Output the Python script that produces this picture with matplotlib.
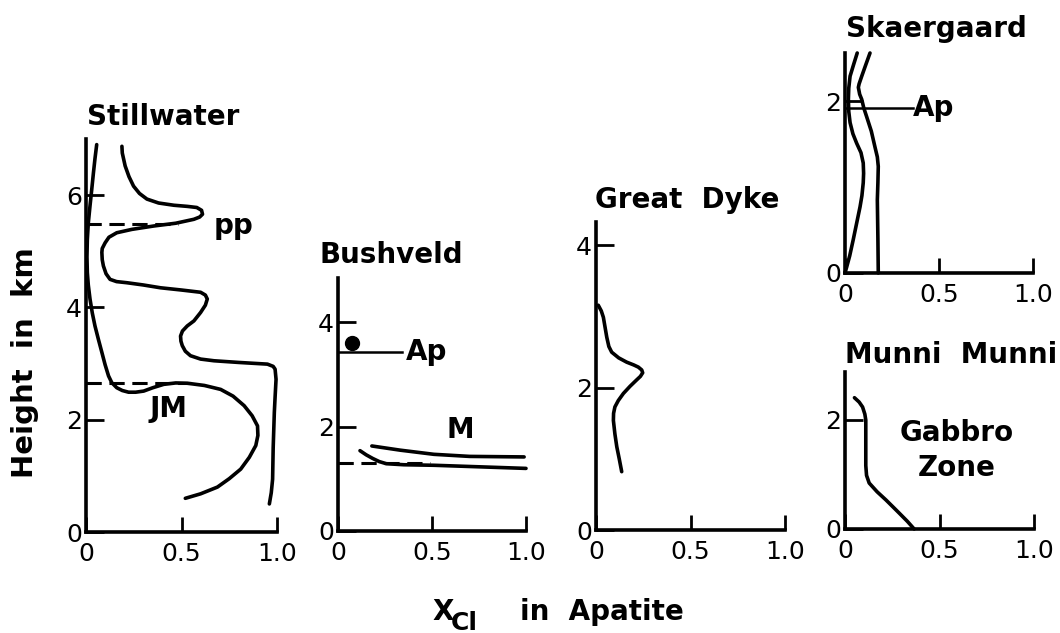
import numpy as np
import matplotlib
matplotlib.use("Agg")
import matplotlib.pyplot as plt

W, H = 1060, 633
LW = 2.6

# Stillwater (km vs X_Cl)
still_a_x = [0.056, 0.047, 0.039, 0.03, 0.021, 0.012, 0.007, 0.005, 0.007, 0.012, 0.021, 0.033,
             0.047, 0.065, 0.083, 0.1, 0.118, 0.135, 0.161, 0.19, 0.223, 0.26, 0.302, 0.35,
             0.407, 0.47, 0.53, 0.62, 0.705, 0.77, 0.828, 0.87, 0.898, 0.9, 0.889, 0.855,
             0.81, 0.75, 0.688, 0.6, 0.52]
still_a_y = [6.9, 6.65, 6.4, 6.1, 5.81, 5.5, 5.21, 4.9, 4.62, 4.4, 4.15, 3.9,
             3.67, 3.43, 3.2, 2.98, 2.78, 2.66, 2.57, 2.52, 2.49, 2.49, 2.51, 2.57,
             2.63, 2.655, 2.65, 2.61, 2.54, 2.42, 2.25, 2.07, 1.89, 1.72, 1.54, 1.33,
             1.12, 0.95, 0.8, 0.68, 0.6]
still_b_x = [0.188, 0.19, 0.205, 0.225, 0.249, 0.28, 0.319, 0.38, 0.46, 0.53, 0.58, 0.605,
             0.61, 0.595, 0.565, 0.47, 0.354, 0.24, 0.161, 0.12, 0.1, 0.085, 0.083, 0.085,
             0.091, 0.105, 0.126, 0.16, 0.214, 0.3, 0.39, 0.5, 0.6, 0.625, 0.635, 0.625,
             0.6, 0.565, 0.53, 0.505, 0.495, 0.497, 0.504, 0.52, 0.547, 0.6, 0.67, 0.8,
             0.95, 0.98, 0.99, 0.995, 0.99, 0.986, 0.98, 0.977, 0.97, 0.96]
still_b_y = [6.87, 6.75, 6.52, 6.33, 6.16, 6.03, 5.93, 5.86, 5.82, 5.8, 5.78, 5.73,
             5.66, 5.61, 5.57, 5.5, 5.45, 5.39, 5.33, 5.25, 5.15, 5.05, 4.98, 4.85,
             4.74, 4.6, 4.5, 4.46, 4.44, 4.4, 4.35, 4.31, 4.27, 4.22, 4.15, 4.04,
             3.91, 3.76, 3.67, 3.58, 3.49, 3.4, 3.32, 3.22, 3.14, 3.08, 3.05, 3.02,
             2.99, 2.95, 2.9, 2.72, 2.4, 2.13, 1.5, 0.94, 0.7, 0.5]
still_pp_y, still_pp_x = 5.49, 0.48
still_jm_y, still_jm_x = 2.66, 0.55

# Bushveld
bush_dot = (0.072, 3.6)
bush_ap_y, bush_ap_x = 3.43, 0.34
bush_m1_x = [0.18, 0.33, 0.51, 0.7, 0.99]
bush_m1_y = [1.63, 1.55, 1.47, 1.43, 1.42]
bush_m2_x = [0.117, 0.15, 0.185, 0.22, 0.257, 0.35, 0.51, 1.0]
bush_m2_y = [1.54, 1.46, 1.39, 1.33, 1.29, 1.27, 1.26, 1.2]
bush_dash_y, bush_dash_x = 1.31, 0.49

# Great Dyke
dyke_x = [0.012, 0.028, 0.039, 0.048, 0.057, 0.068, 0.083, 0.12, 0.162, 0.2, 0.224, 0.242,
          0.247, 0.235, 0.215, 0.18, 0.145, 0.118, 0.10, 0.093, 0.092, 0.1, 0.11, 0.123, 0.136]
dyke_y = [3.16, 3.08, 2.99, 2.85, 2.71, 2.58, 2.50, 2.42, 2.36, 2.32, 2.29, 2.25,
          2.21, 2.16, 2.11, 2.02, 1.92, 1.82, 1.73, 1.64, 1.54, 1.35, 1.17, 1.0, 0.82]

# Skaergaard
sk1_x = [0.065, 0.045, 0.027, 0.02, 0.018, 0.02, 0.027, 0.042, 0.062, 0.085, 0.097, 0.099,
         0.097, 0.09, 0.08, 0.062, 0.044, 0.025, 0.009, 0.0]
sk1_y = [2.56, 2.42, 2.29, 2.15, 2.02, 1.88, 1.75, 1.62, 1.51, 1.4, 1.28, 1.16,
         1.05, 0.9, 0.77, 0.58, 0.39, 0.2, 0.07, 0.0]
sk2_x = [0.133, 0.11, 0.089, 0.075, 0.071, 0.078, 0.089, 0.1, 0.115, 0.14, 0.159, 0.172,
         0.177, 0.175, 0.172, 0.175, 0.177]
sk2_y = [2.56, 2.42, 2.29, 2.2, 2.16, 2.08, 2.02, 1.92, 1.82, 1.65, 1.47, 1.35,
         1.24, 1.05, 0.85, 0.4, 0.0]
sk_ap_y, sk_ap_x = 1.92, 0.36

# Munni Munni
mm_x = [0.05, 0.075, 0.093, 0.105, 0.11, 0.11, 0.11, 0.114, 0.128, 0.17, 0.217, 0.255,
        0.287, 0.33, 0.366]
mm_y = [2.4, 2.32, 2.23, 2.1, 1.99, 1.38, 1.16, 0.98, 0.84, 0.68, 0.53, 0.4,
        0.29, 0.14, 0.0]

fig = plt.figure(figsize=(W / 100, H / 100), dpi=100)


def panel(left, right, bottom, top, ymax, yticks, title, title_xy):
    ax = fig.add_axes([left / W, 1 - bottom / H, (right - left) / W, (bottom - top) / H])
    ax.set_xlim(0, 1.0)
    ax.set_ylim(0, ymax)
    for s in ("top", "right"):
        ax.spines[s].set_visible(False)
    for s in ("left", "bottom"):
        ax.spines[s].set_linewidth(LW)
        ax.spines[s].set_capstyle("projecting")
    ax.set_xticks([0, 0.5, 1.0], ["0", "0.5", "1.0"])
    ax.set_yticks(yticks, [str(t) for t in yticks])
    ax.tick_params(axis="x", direction="in", length=11, width=2.0, pad=7, labelsize=18)
    ax.tick_params(axis="y", direction="in", length=13, width=2.0, pad=3, labelsize=18)
    fig.text(title_xy[0] / W, 1 - title_xy[1] / H, title, ha="center", va="baseline",
             fontsize=20, fontweight="bold")
    return ax


def curve(ax, x, y, **kw):
    ax.plot(x, y, color="black", lw=LW, clip_on=False, solid_capstyle="round",
            solid_joinstyle="round", **kw)


# Stillwater
ax = panel(86, 277, 532, 139, 7.0, [0, 2, 4, 6], "Stillwater", (163, 125))
curve(ax, still_a_x, still_a_y)
curve(ax, still_b_x, still_b_y)
ax.plot([0, still_pp_x], [still_pp_y] * 2, color="black", lw=2.2, ls=(0, (5, 2.5)))
ax.plot([0, still_jm_x], [still_jm_y] * 2, color="black", lw=2.2, ls=(0, (5, 2.5)))
ax.text(0.77, 5.45, "pp", fontsize=20, fontweight="bold", ha="center", va="center")
ax.text(0.43, 2.19, "JM", fontsize=20, fontweight="bold", ha="center", va="center")

# Bushveld
ax = panel(338, 526, 531, 278, 4.85, [0, 2, 4], "Bushveld", (391, 263))
ax.plot(*bush_dot, "o", color="black", ms=10, clip_on=False)
ax.plot([0, bush_ap_x], [bush_ap_y] * 2, color="black", lw=1.8)
ax.text(bush_ap_x + 0.02, bush_ap_y, "Ap", fontsize=20, fontweight="bold", ha="left", va="center")
curve(ax, bush_m1_x, bush_m1_y)
curve(ax, bush_m2_x, bush_m2_y)
ax.plot([0, bush_dash_x], [bush_dash_y] * 2, color="black", lw=2.2, ls=(0, (5, 2.5)))
ax.text(0.65, 1.93, "M", fontsize=20, fontweight="bold", ha="center", va="center")

# Great Dyke
ax = panel(596, 785, 530, 222, 4.33, [0, 2, 4], "Great  Dyke", (687, 208))
curve(ax, dyke_x, dyke_y)

# Skaergaard
ax = panel(845, 1033, 273, 53, 2.56, [0, 2], "Skaergaard", (936, 37))
curve(ax, sk1_x, sk1_y)
curve(ax, sk2_x, sk2_y)
ax.plot([0, sk_ap_x], [sk_ap_y] * 2, color="black", lw=1.8)
ax.text(sk_ap_x, sk_ap_y, "Ap", fontsize=20, fontweight="bold", ha="left", va="center")

# Munni Munni
ax = panel(845, 1034, 529, 372, 2.87, [0, 2], "Munni  Munni", (951, 363))
curve(ax, mm_x, mm_y)
ax.text(0.59, 1.44, "Gabbro\nZone", fontsize=20, fontweight="bold", ha="center", va="center",
        linespacing=1.3)

# shared axis labels
fig.text(25 / W, 1 - 363 / H, "Height  in  km", rotation=90, ha="center", va="center",
         fontsize=21, fontweight="bold")
fig.text(432 / W, 1 - 620 / H, "X", ha="left", va="baseline", fontsize=20, fontweight="bold")
fig.text(451 / W, 1 - 630 / H, "Cl", ha="left", va="baseline", fontsize=18, fontweight="bold")
fig.text(520 / W, 1 - 620 / H, "in  Apatite", ha="left", va="baseline", fontsize=20,
         fontweight="bold")

fig.savefig("out.png", dpi=100)
